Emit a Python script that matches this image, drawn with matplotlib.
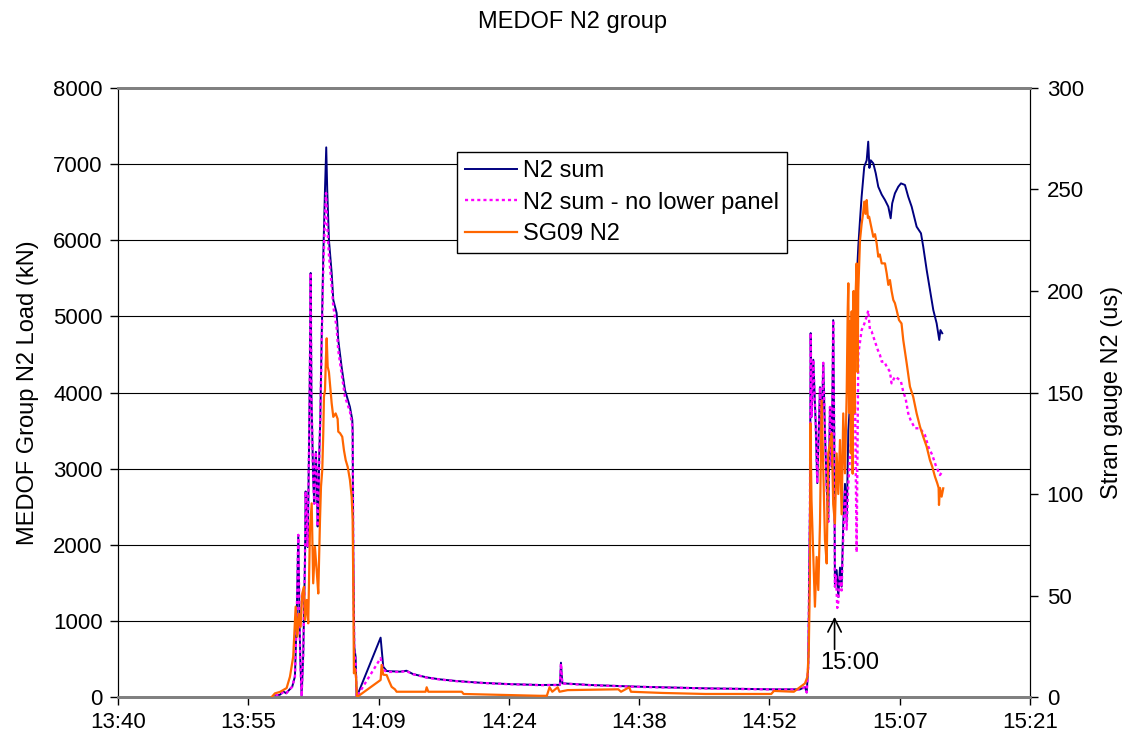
import numpy as np
import matplotlib
matplotlib.use("Agg")
import matplotlib.pyplot as plt
from matplotlib.lines import Line2D

plt.rcParams['font.family'] = ['Liberation Sans', 'DejaVu Sans']

# time axis: minutes after 13:00
tick_labels = ['13:40', '13:55', '14:09', '14:24', '14:38', '14:52', '15:07', '15:21']
x_start = 40.8      # 13:40:48
x_step = 14.4       # 0.01 day

# --- N2 sum (kN) ---
sum_t = [58.2, 58.7, 59.1, 59.4, 59.7, 60.06, 60.36, 60.55, 60.73, 60.84, 60.95, 61.10,
         61.28, 61.47, 61.54, 61.66, 61.77, 61.91, 62.00, 62.10, 62.18, 62.27, 62.38, 62.50,
         62.57, 62.68, 62.79, 62.87, 62.96, 63.05, 63.16, 63.31, 63.49, 63.68, 63.82, 63.93,
         64.12, 64.42, 64.60, 64.97, 65.15, 65.52, 65.89, 66.44, 66.70, 66.74, 66.81, 66.92,
         67.07, 67.18, 69.83, 70.12, 70.50, 71.97, 72.70, 73.40, 74.92, 76.39, 78.23, 80.81,
         83.76, 87.44, 89.65, 89.76, 89.91, 92.97, 98.49, 105.86, 113.23, 116.18, 116.73,
         116.92, 117.09, 117.28, 117.36, 117.47, 117.65, 117.91, 118.09, 118.39, 118.57,
         118.75, 118.94, 119.13, 119.30, 119.49, 119.68, 119.85, 119.96, 120.04, 120.23,
         120.41, 120.60, 120.78, 120.96, 121.15, 121.34, 121.52, 121.89, 122.25, 122.62,
         122.81, 122.99, 123.28, 123.55, 123.72, 123.85, 124.00, 124.28, 124.55, 124.83,
         125.21, 125.57, 125.94, 126.20, 126.37, 126.67, 127.04, 127.34, 127.78, 128.14,
         128.52, 129.07, 129.55, 129.80, 130.18, 130.54, 130.91, 131.28, 131.46, 131.57,
         131.70, 131.90]
sum_kn = [20, 30, 70, 50, 90, 135, 270, 1010, 2130, 1230, 500, 10,
          570, 1800, 2700, 2370, 1970, 3200, 4200, 5570, 4000, 3460, 2850, 2540,
          2980, 3220, 2760, 2240, 2500, 3200, 3640, 4690, 5780, 6660, 7220, 6660,
          6000, 5570, 5215, 5044, 4690, 4335, 4033, 3810, 3640, 3500, 1880, 657,
          525, 0, 780, 398, 341, 333, 345, 302, 258, 232, 210, 188,
          171, 158, 160, 451, 180, 158, 135, 114, 101, 101, 131,
          60, 400, 2500, 4780, 3680, 4430, 3600, 2810, 4070, 3470,
          4390, 3470, 2760, 2300, 3810, 3025, 4950, 3470, 1450, 1668,
          1314, 1700, 1450, 2280, 2800, 2300, 3500, 4200, 5000, 5915,
          6266, 6572, 6966, 7050, 7295, 6950, 7050, 7010, 6880, 6703,
          6600, 6529, 6441, 6288, 6485, 6616, 6703, 6747, 6726, 6572,
          6441, 6178, 6091, 5915, 5609, 5346, 5084, 4909, 4778, 4690,
          4820, 4778]

# --- N2 sum - no lower panel (kN) ---
nolow_t = [58.2, 58.7, 59.1, 59.4, 59.7, 60.06, 60.36, 60.55, 60.73, 60.84, 60.95, 61.10,
           61.28, 61.47, 61.54, 61.66, 61.77, 61.91, 62.00, 62.10, 62.18, 62.27, 62.38, 62.50,
           62.57, 62.68, 62.79, 62.87, 62.96, 63.05, 63.16, 63.31, 63.49, 63.68, 63.80, 63.93,
           64.12, 64.42, 64.60, 64.97, 65.15, 65.52, 65.89, 66.44, 66.70, 66.74, 66.81, 66.92,
           67.07, 67.18, 69.83, 70.12, 70.50, 71.97, 72.70, 73.40, 74.92, 76.39, 78.23, 80.81,
           83.76, 87.44, 89.65, 89.76, 89.91, 92.97, 98.49, 105.86, 113.23, 116.18, 116.73,
           116.92, 117.09, 117.28, 117.36, 117.47, 117.65, 117.91, 118.09, 118.39, 118.57,
           118.75, 118.94, 119.13, 119.30, 119.49, 119.68, 119.85, 119.96, 120.04, 120.15,
           120.30, 120.41, 120.60, 120.78, 120.96, 121.15, 121.34, 121.52, 121.89, 122.25,
           122.44, 122.62, 122.99, 123.28, 123.55, 123.72, 123.91, 124.10, 124.47, 124.78,
           125.00, 125.21, 125.50, 125.76, 126.12, 126.30, 126.67, 127.04, 127.34, 127.59,
           127.85, 128.14, 128.40, 128.88, 129.44, 129.99, 130.36, 130.80, 131.17, 131.65,
           131.90]
nolow_kn = [20, 30, 70, 50, 90, 135, 270, 1010, 2130, 1230, 500, 10,
            570, 1800, 2700, 2370, 1970, 3200, 4200, 5570, 4000, 3460, 2850, 2540,
            2980, 3220, 2760, 2240, 2500, 3200, 3640, 4600, 5600, 6300, 6620, 6200,
            5800, 5400, 5130, 4850, 4550, 4250, 3945, 3750, 3560, 3400, 1800, 600,
            450, 0, 510, 360, 330, 330, 340, 300, 255, 230, 208, 186,
            170, 156, 158, 440, 178, 156, 133, 112, 100, 100, 128,
            60, 400, 2500, 4780, 3680, 4430, 3600, 2810, 4070, 3470,
            4390, 3470, 2760, 2300, 3810, 3025, 4950, 3470, 1450, 1600,
            1170, 1250, 1600, 1400, 2100, 2700, 2200, 2800, 3500, 4000,
            1900, 4500, 4820, 4900, 5000, 5075, 4820, 4800, 4667, 4558,
            4500, 4405, 4405, 4339, 4273, 4120, 4208, 4180, 4142, 4011,
            3923, 3726, 3639, 3530, 3530, 3442, 3288, 3179, 3047, 2916,
            2960]

# --- SG09 N2 strain (us) ---
sg_t = [57.79, 58.15, 58.70, 59.44, 59.81, 60.17, 60.44, 60.62, 60.80, 60.99, 61.17, 61.36,
        61.47, 61.66, 61.83, 62.02, 62.21, 62.38, 62.57, 62.76, 62.94, 63.13, 63.24, 63.38,
        63.49, 63.57, 63.68, 63.79, 63.87, 63.98, 64.12, 64.23, 64.42, 64.60, 64.86, 65.08,
        65.15, 65.34, 65.59, 65.78, 65.97, 66.19, 66.44, 66.63, 66.74, 66.81, 66.88, 66.99,
        67.11, 67.22, 69.83, 69.94, 70.12, 70.50, 70.75, 71.05, 71.41, 71.60, 74.80, 74.92,
        75.10, 78.80, 79.00, 87.44, 88.20, 88.50, 88.80, 89.40, 89.60, 90.50, 96.10, 96.40,
        97.30, 97.50, 101.0, 105.7, 113.0, 113.3, 115.5, 116.73, 117.00, 117.15, 117.28,
        117.33, 117.45, 117.83, 118.02, 118.20, 118.39, 118.57, 118.75, 118.94, 119.13,
        119.30, 119.68, 119.85, 120.04, 120.23, 120.41, 120.60, 120.78, 120.96, 121.15,
        121.34, 121.45, 121.52, 121.60, 121.70, 121.80, 121.89, 122.00, 122.10, 122.20,
        122.30, 122.44, 122.55, 122.62, 122.81, 122.99, 123.15, 123.28, 123.42, 123.55,
        123.68, 123.82, 124.05, 124.28, 124.47, 124.65, 124.83, 125.00, 125.21, 125.57,
        125.76, 125.94, 126.12, 126.30, 126.49, 126.67, 126.86, 127.12, 127.40, 127.59,
        127.97, 128.33, 128.69, 129.07, 129.44, 129.80, 130.18, 130.54, 130.80, 131.10,
        131.35, 131.50, 131.54, 131.65, 131.83, 132.01]
sg_us = [0, 1.8, 2.5, 4.4, 10, 19.9, 44.5, 29.7, 41, 34.6, 51, 54.3,
         38, 47.8, 36.3, 82.3, 95.4, 56, 74, 62.6, 51, 87.2, 103.6, 111.8,
         129.6, 148, 151, 167.6, 176.7, 162.7, 160, 154.5, 144.7, 138, 139.7, 137,
         130.7, 130, 128.2, 121.5, 116.7, 113.4, 106.9, 98.7, 87.2, 55, 11.7, 14,
         10, 0, 8.4, 15.8, 11, 10.8, 8, 5, 3.8, 2.6, 2.6, 4.8,
         2.6, 2.6, 1.5, 0.6, 0.6, 4.8, 2.6, 4.8, 2.6, 3.4, 3.8, 2.6,
         4.8, 2.6, 2, 1.5, 1.5, 3, 2.6, 6.7, 10, 23, 61,
         134.8, 97, 44.5, 69, 52.7, 85.7, 146, 113.4, 77.3, 65.8,
         120, 129.9, 95, 85.5, 120, 100, 126.6, 90, 139.7, 110.2,
         149.6, 190, 203.8, 140, 185, 120, 190, 110, 200, 140,
         195, 213.6, 160, 200, 225, 233, 238, 244, 238, 244.8,
         236, 236.6, 231.7, 226.7, 228, 223.5, 216.9, 218, 213.6, 213.6,
         208.7, 203, 205.4, 200, 195.6, 194, 190.6, 185.7, 184, 175.9,
         164.4, 152.9, 147.9, 139.7, 133.2, 128.2, 123.3, 116.7, 113.4, 108.5,
         105.3, 103, 94.6, 103, 98.7, 102.8]

C_SUM = '#000080'
C_NOLOW = '#FF00FF'
C_SG = '#FF6600'
NOLOW_LS = (0, (1.3, 1.3))

fig = plt.figure(figsize=(11.33, 7.45), dpi=100)
ax = fig.add_axes([0.1041, 0.0644, 0.805, 0.8175])
ax2 = ax.twinx()

ax.plot(sum_t, sum_kn, color=C_SUM, lw=1.4, zorder=3)
ax.plot(nolow_t, nolow_kn, color=C_NOLOW, lw=1.7, ls=NOLOW_LS, zorder=4)
ax2.plot(sg_t, sg_us, color=C_SG, lw=1.6, zorder=3)

ax.set_xlim(x_start, x_start + x_step * 7)
ax.set_xticks([x_start + i * x_step for i in range(8)])
ax.set_xticklabels(tick_labels)
ax.set_ylim(0, 8000)
ax.set_yticks(np.arange(0, 8001, 1000))
ax2.set_ylim(0, 300)
ax2.set_yticks(np.arange(0, 301, 50))

ax.yaxis.grid(True, color='black', lw=0.8)
ax.set_axisbelow(True)

fs_tick = 16
fs = 17
ax.tick_params(axis='both', direction='out', length=6, width=1, labelsize=fs_tick, pad=5)
ax2.tick_params(axis='y', direction='out', length=6, width=1, labelsize=fs_tick, pad=6)

for a in (ax, ax2):
    a.spines['top'].set_color('#808080')
    a.spines['top'].set_linewidth(2)
    a.spines['bottom'].set_color('#808080')
    a.spines['bottom'].set_linewidth(2)
    a.spines['left'].set_color('black')
    a.spines['right'].set_color('black')

ax.set_ylabel('MEDOF Group N2 Load (kN)', fontsize=fs, labelpad=10)
ax2.set_ylabel('Stran gauge N2 (us)', fontsize=fs, labelpad=12)
fig.suptitle('MEDOF N2 group', fontsize=fs, x=0.505, y=0.985)

# 15:00 marker
ax.annotate('', xy=(120.0, 1090), xytext=(120.0, 590),
            arrowprops=dict(arrowstyle='->', color='black', lw=1.2, mutation_scale=24))
ax.text(121.7, 447, '15:00', fontsize=fs, ha='center', va='center')

handles = [Line2D([], [], color=C_SUM, lw=1.4),
           Line2D([], [], color=C_NOLOW, lw=1.7, ls=NOLOW_LS),
           Line2D([], [], color=C_SG, lw=1.6)]
leg = ax2.legend(handles, ['N2 sum', 'N2 sum - no lower panel', 'SG09 N2'],
                 loc='upper left', bbox_to_anchor=(0.4034, 0.796),
                 bbox_transform=fig.transFigure, fontsize=fs, frameon=True,
                 fancybox=False, edgecolor='black', framealpha=1,
                 handlelength=2.2, handletextpad=0.25, labelspacing=0.4,
                 borderpad=0.35, borderaxespad=0)
leg.get_frame().set_linewidth(1)
leg.set_zorder(10)

fig.savefig('out.png', dpi=100)
